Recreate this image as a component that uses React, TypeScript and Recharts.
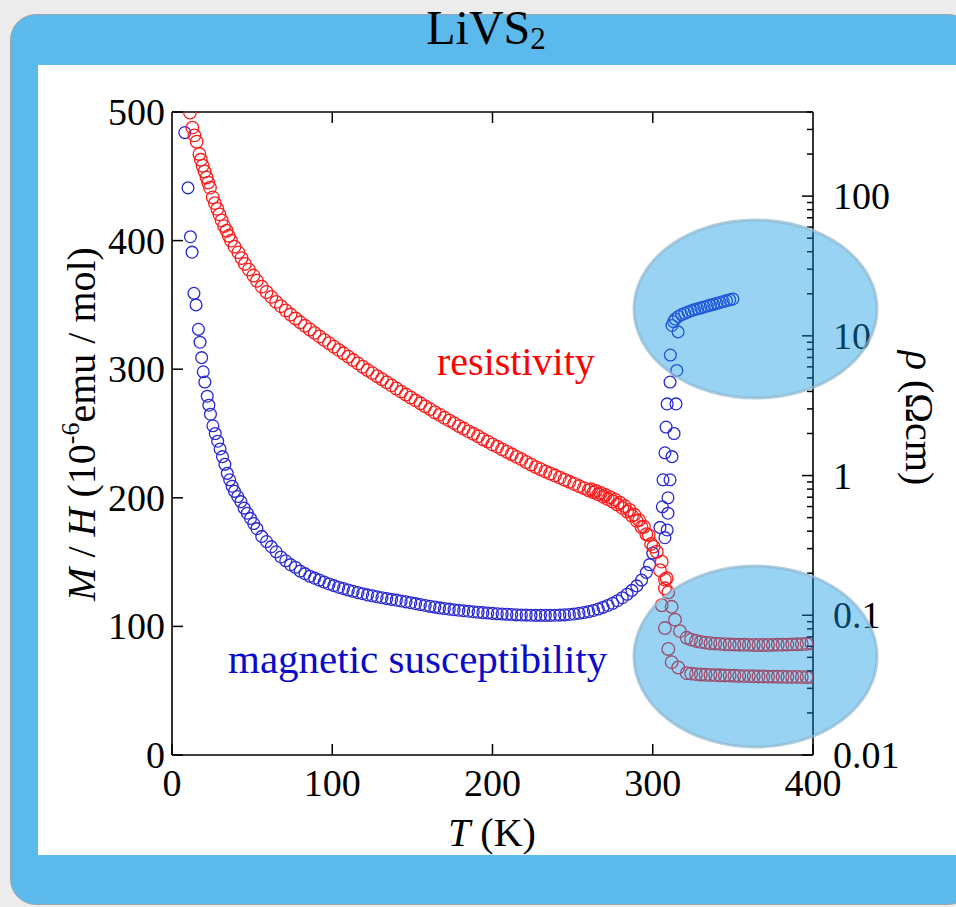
import { ScatterChart, Scatter, XAxis, YAxis } from "recharts";

const SERIF = '"Liberation Serif", "Times New Roman", serif';

// magnetic susceptibility M/H (10^-6 emu/mol) vs T (K)
const chiLowT: [number, number][] = [
  [8, 484], [10, 441], [11.5, 403], [12.5, 391], [13.7, 359], [15, 350],
  [16.5, 331], [17.5, 321], [18.5, 309], [19.5, 298], [20.5, 290], [22, 279],
  [23, 272], [24, 265], [25.5, 256], [27, 250], [28.5, 244], [30, 238],
  [31.5, 232], [33, 226], [34.5, 219], [36, 214], [37.5, 209], [39, 205],
  [41, 201], [43, 197], [45, 192], [47, 188], [49, 184], [51, 180], [53, 176],
];
const chiMain: [number, number][] = [
  [56, 170], [59, 166], [62, 162], [65, 158], [68, 154], [71, 151], [74, 148],
  [77, 146], [80, 143], [83, 141], [86, 139], [89, 137.5], [92, 136], [95, 134.5],
  [98, 133], [101, 131.7], [104, 130.5], [107, 129.4], [110, 128.3], [113, 127.3],
  [116, 126.3], [119, 125.4], [122, 124.5], [125, 123.8], [128, 123], [131, 122.3],
  [134, 121.6], [137, 121], [140, 120.4], [143, 119.8], [146, 119.1], [149, 118.4],
  [152, 117.7], [155, 117], [158, 116.3], [161, 115.6], [164, 115], [167, 114.4],
  [170, 113.9], [173, 113.4], [176, 113], [179, 112.6], [182, 112.2], [185, 111.8],
  [188, 111.4], [191, 111], [194, 110.7], [197, 110.4], [200, 110.1], [203, 109.8],
  [206, 109.6], [209, 109.4], [212, 109.2], [215, 109], [218, 108.9], [221, 108.8],
  [224, 108.7], [227, 108.6], [230, 108.6], [233, 108.6], [236, 108.6], [239, 108.7],
  [242, 108.8], [245, 109], [248, 109.3], [251, 109.7], [254, 110.2], [257, 110.8],
  [260, 111.5], [263, 112.4], [266, 113.5], [269, 114.8], [272, 116.3], [275, 118],
  [278, 120], [281, 122.3], [284, 125], [287, 128], [290, 131.5], [293, 136],
  [296, 142], [298, 148],
];
const chiTransition: [number, number][] = [
  [300, 157], [304.5, 177], [307.6, 169], [309, 175], [306, 193], [309.5, 188],
  [309.5, 200], [306.4, 214], [310.8, 214], [307.6, 235], [312, 232], [308.3, 255],
  [313.3, 250], [309, 273], [314.5, 273], [310.8, 290], [315, 299], [311, 311],
  [315.8, 329], [312, 334],
];
const chiHighT: [number, number][] = [
  [313, 337], [314, 339], [316, 341], [318, 342.5], [320, 343.5], [322, 344.5],
  [324, 345.5], [326, 346.3], [328, 347], [330, 347.7], [332, 348.4], [334, 349.1],
  [336, 349.8], [338, 350.5], [340, 351.2], [342, 351.9], [344, 352.6], [346, 353.3],
  [348, 354], [350, 354.6],
];

// resistivity rho (Ohm cm) vs T (K)
const rhoLowT: [number, number][] = [
  [11.2, 396], [12.7, 309], [14, 272], [15.4, 245], [17.1, 200], [18, 182],
  [19.1, 165], [20.3, 150], [21.6, 136], [22.6, 125], [23.7, 115], [25.4, 98],
  [26.8, 89], [28.3, 81], [29.6, 74], [31, 67], [32.5, 61], [34.1, 56.5],
  [35.4, 52], [36.8, 48], [39, 43.5], [41.4, 39.6], [43.4, 36], [45.5, 32.7],
  [48, 29.8], [50.8, 27], [53, 24.8],
];
const rhoMain: [number, number][] = [
  [56, 22.5], [59, 20.6], [62, 19.0], [65, 17.5], [68, 16.3], [71, 15.2], [74, 14.2],
  [77, 13.3], [80, 12.5], [83, 11.8], [86, 11.1], [89, 10.5], [92, 9.9], [95, 9.35],
  [98, 8.85], [101, 8.37], [104, 7.93], [107, 7.5], [110, 7.1], [113, 6.71],
  [116, 6.35], [119, 6.01], [122, 5.69], [125, 5.41], [128, 5.14], [131, 4.89],
  [134, 4.65], [137, 4.42], [140, 4.2], [143, 3.99], [146, 3.8], [149, 3.62],
  [152, 3.45], [155, 3.29], [158, 3.13], [161, 2.99], [164, 2.84], [167, 2.72],
  [170, 2.59], [173, 2.48], [176, 2.37], [179, 2.26], [182, 2.17], [185, 2.07],
  [188, 1.99], [191, 1.91], [194, 1.82], [197, 1.75], [200, 1.67], [203, 1.61],
  [206, 1.54], [209, 1.48], [212, 1.42], [215, 1.36], [218, 1.31], [221, 1.25],
  [224, 1.2], [227, 1.15], [230, 1.11], [233, 1.07], [236, 1.035], [239, 1.0],
  [242, 0.966], [245, 0.933], [248, 0.902], [251, 0.871], [254, 0.841], [257, 0.813],
  [260, 0.785], [263, 0.759], [266, 0.733], [269, 0.706], [272, 0.679], [275, 0.652],
  [278, 0.621], [281, 0.587], [284, 0.552], [287, 0.515], [290, 0.474], [293, 0.428],
  [296, 0.38], [299, 0.324],
];
const rhoSecondBand: [number, number][] = [
  [261.5, 0.8], [264.5, 0.775], [267.5, 0.75], [270.5, 0.725], [273.5, 0.7],
  [276.5, 0.672], [279.5, 0.64], [282.5, 0.605], [285.5, 0.567], [288.5, 0.525],
  [291.5, 0.48], [294.5, 0.43], [297.5, 0.375], [300.5, 0.31],
];
const rhoTransition: [number, number][] = [
  [302.5, 0.285], [304.5, 0.21], [305.6, 0.242], [307.6, 0.18], [308.7, 0.184],
  [307.6, 0.156], [309.7, 0.146], [305.6, 0.118], [311.8, 0.115], [313.9, 0.093],
  [307.6, 0.081], [317, 0.077], [321.2, 0.069], [309.7, 0.0574], [311.8, 0.0462],
  [315.9, 0.0423], [321.2, 0.0385],
];
const rhoUpperRow: [number, number][] = [
  [324, 0.067], [327, 0.0655], [330, 0.0645], [333, 0.0637], [336, 0.0631],
  [339, 0.0627], [342, 0.0624], [345, 0.0621], [348, 0.0619], [351, 0.0617],
  [354, 0.0616], [357, 0.0615], [360, 0.0614], [363, 0.0613], [366, 0.0613],
  [369, 0.0613], [372, 0.0613], [375, 0.0614], [378, 0.0615], [381, 0.0616],
  [384, 0.0617], [387, 0.0619], [390, 0.062], [393, 0.0622], [396, 0.0625], [399, 0.063],
];
const rhoLowerRow: [number, number][] = [
  [324, 0.0382], [327, 0.0379], [330, 0.0377], [333, 0.0375], [336, 0.0374],
  [339, 0.0373], [342, 0.0372], [345, 0.0371], [348, 0.037], [351, 0.0369],
  [354, 0.0368], [357, 0.0367], [360, 0.0367], [363, 0.0366], [366, 0.0365],
  [369, 0.0365], [372, 0.0364], [375, 0.0364], [378, 0.0363], [381, 0.0363],
  [384, 0.0362], [387, 0.0362], [390, 0.0362], [393, 0.0361], [396, 0.0361], [399, 0.0361],
];

const tTicks = [0, 100, 200, 300, 400];
const tTopTicks = [100, 200, 300];
const chiTicks = [0, 100, 200, 300, 400, 500];
const rhoMajor = [0.01, 0.1, 1, 10, 100];
const rhoMinor = [
  0.02, 0.03, 0.04, 0.05, 0.06, 0.07, 0.08, 0.09,
  0.2, 0.3, 0.4, 0.5, 0.6, 0.7, 0.8, 0.9,
  2, 3, 4, 5, 6, 7, 8, 9,
  20, 30, 40, 50, 60, 70, 80, 90,
  200, 300, 400,
];

const toPoints = (arr: [number, number][]) => arr.map(([x, y]) => ({ x, y }));

const chiData = toPoints([...chiLowT, ...chiMain, ...chiTransition, ...chiHighT]);
const rhoData = toPoints([
  ...rhoLowT, ...rhoMain, ...rhoSecondBand, ...rhoTransition, ...rhoUpperRow, ...rhoLowerRow,
]);

const RED = "#ff1a1a";
const BLUE = "#2a2ad4";
const AXIS = { stroke: "#000", strokeWidth: 1.6 };

const BottomTick = (p: any) => (
  <g>
    <line x1={p.x} y1={p.y} x2={p.x} y2={p.y - 11} stroke="#000" strokeWidth={1.5} />
    <text x={p.x} y={p.y + 41} textAnchor="middle" fontSize={38} fontFamily={SERIF} fill="#000">
      {p.payload.value}
    </text>
  </g>
);

const TopTick = (p: any) => (
  <g>
    <line x1={p.x} y1={p.y} x2={p.x} y2={p.y + 11} stroke="#000" strokeWidth={1.5} />
  </g>
);

const LeftTick = (p: any) => (
  <g>
    <line x1={p.x} y1={p.y} x2={p.x + 11} y2={p.y} stroke="#000" strokeWidth={1.5} />
    <text x={p.x - 7} y={p.y + 13} textAnchor="end" fontSize={38} fontFamily={SERIF} fill="#000">
      {p.payload.value}
    </text>
  </g>
);

const RightTick = (p: any) => {
  const major = rhoMajor.includes(p.payload.value);
  return (
    <g>
      <line x1={p.x} y1={p.y} x2={p.x - (major ? 11 : 6)} y2={p.y} stroke="#000" strokeWidth={1.5} />
      {major && (
        <text x={p.x + 20} y={p.y + 13} textAnchor="start" fontSize={38} fontFamily={SERIF} fill="#000">
          {String(p.payload.value)}
        </text>
      )}
    </g>
  );
};

const ring = (color: string, r: number) => (props: any) => (
  <circle cx={props.cx} cy={props.cy} r={r} fill="none" stroke={color} strokeWidth={1.3} />
);

export default function App() {
  return (
    <div
      style={{
        position: "absolute",
        left: 0,
        top: 0,
        width: 956,
        height: 907,
        overflow: "hidden",
        background: "#ececec",
        fontFamily: SERIF,
      }}
    >
      <div
        style={{
          position: "absolute",
          left: 10,
          top: 14,
          width: 962,
          height: 889,
          background: "#5cb9ec",
          borderRadius: 26,
          border: "1px solid #9aa6ad",
        }}
      />
      <div style={{ position: "absolute", left: 38, top: 65, width: 918, height: 790, background: "#fff" }} />

      <div style={{ position: "absolute", left: 0, top: 0 }}>
        <ScatterChart width={956} height={907} margin={{ top: 111, right: 142, bottom: 151, left: 171 }}>
          <XAxis
            xAxisId="b"
            type="number"
            dataKey="x"
            domain={[0, 400]}
            ticks={tTicks}
            interval={0}
            orientation="bottom"
            height={1}
            tickSize={0}
            tickMargin={0}
            tickLine={false}
            axisLine={AXIS}
            tick={(p: any) => <BottomTick {...p} />}
            allowDataOverflow
          />
          <XAxis
            xAxisId="t"
            type="number"
            dataKey="x"
            domain={[0, 400]}
            ticks={tTopTicks}
            interval={0}
            orientation="top"
            height={1}
            tickSize={0}
            tickMargin={0}
            tickLine={false}
            axisLine={AXIS}
            tick={(p: any) => <TopTick {...p} />}
            allowDataOverflow
          />
          <YAxis
            yAxisId="m"
            type="number"
            dataKey="y"
            domain={[0, 500]}
            ticks={chiTicks}
            interval={0}
            orientation="left"
            width={1}
            tickSize={0}
            tickMargin={0}
            tickLine={false}
            axisLine={AXIS}
            tick={(p: any) => <LeftTick {...p} />}
            allowDataOverflow
          />
          <YAxis
            yAxisId="r"
            type="number"
            dataKey="y"
            scale="log"
            domain={[0.01, 400]}
            ticks={[...rhoMajor, ...rhoMinor]}
            interval={0}
            orientation="right"
            width={1}
            tickSize={0}
            tickMargin={0}
            tickLine={false}
            axisLine={AXIS}
            tick={(p: any) => <RightTick {...p} />}
            allowDataOverflow
          />
          <Scatter
            name="magnetic susceptibility"
            data={chiData}
            xAxisId="b"
            yAxisId="m"
            shape={ring(BLUE, 5.9)}
            isAnimationActive={false}
          />
          <Scatter
            name="resistivity"
            data={rhoData}
            xAxisId="b"
            yAxisId="r"
            shape={ring(RED, 6.3)}
            isAnimationActive={false}
          />
          <Scatter data={[]} xAxisId="t" yAxisId="m" isAnimationActive={false} />
        </ScatterChart>
      </div>

      <svg
        width={956}
        height={907}
        style={{ position: "absolute", left: 0, top: 0, pointerEvents: "none", whiteSpace: "pre" }}
        fontFamily={SERIF}
      >
        <text x={486} y={44} textAnchor="middle" fontSize={48} fill="#000">
          LiVS<tspan fontSize={31} dy={5}>2</tspan>
        </text>
        <text x={492} y={846} textAnchor="middle" fontSize={40} fill="#000">
          <tspan fontStyle="italic">T</tspan>
          {" (K)"}
        </text>
        <text x={95} y={424} transform="rotate(-90 95 424)" textAnchor="middle" fontSize={40} fill="#000">
          <tspan fontStyle="italic">M</tspan>
          {" / "}
          <tspan fontStyle="italic">H</tspan>
          {"  (10"}
          <tspan fontSize={26} dy={-16}>-6</tspan>
          <tspan dy={16}>{"emu / mol)"}</tspan>
        </text>
        <text x={906} y={418} transform="rotate(90 906 418)" textAnchor="middle" fontSize={40} fill="#000">
          <tspan fontStyle="italic">ρ</tspan>
          {"  (Ωcm)"}
        </text>
        <text x={437} y={375} fontSize={40} fill="#ff0000">
          resistivity
        </text>
        <text x={228} y={673} fontSize={41} fill="#0a0acc">
          magnetic susceptibility
        </text>
        <ellipse cx={755.5} cy={309} rx={121.5} ry={89} fill="#0c96e2" fillOpacity={0.42} stroke="#8fb8d0" strokeOpacity={0.7} strokeWidth={3} />
        <ellipse cx={755.5} cy={656.5} rx={121.5} ry={90.5} fill="#0c96e2" fillOpacity={0.42} stroke="#8fb8d0" strokeOpacity={0.7} strokeWidth={3} />
      </svg>
    </div>
  );
}
